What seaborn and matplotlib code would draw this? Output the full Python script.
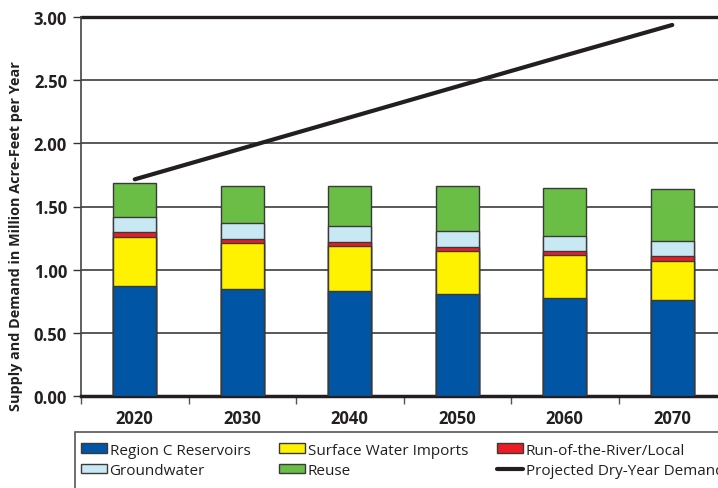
import numpy as np
import seaborn as sns
import matplotlib.pyplot as plt
from matplotlib.patches import Patch, Rectangle
from matplotlib.lines import Line2D

# --- data (million acre-feet per year) ---
years = ["2020", "2030", "2040", "2050", "2060", "2070"]
reservoirs = [0.868, 0.850, 0.829, 0.811, 0.779, 0.763]
imports = [0.393, 0.359, 0.359, 0.340, 0.335, 0.308]
run_of_river = [0.035, 0.031, 0.031, 0.031, 0.032, 0.037]
groundwater = [0.121, 0.127, 0.127, 0.127, 0.121, 0.122]
reuse = [0.267, 0.298, 0.319, 0.356, 0.380, 0.406]
demand = [1.715, 1.960, 2.205, 2.450, 2.695, 2.937]

series_names = ["Region C Reservoirs", "Surface Water Imports", "Run-of-the-River/Local",
                "Groundwater", "Reuse"]
series_vals = [reservoirs, imports, run_of_river, groundwater, reuse]
colors = ["#0055a5", "#fff200", "#ed1c24", "#c8e8f3", "#6abd45"]

sns.set_theme(style="white")
plt.rcParams["font.family"] = ["Open Sans", "DejaVu Sans"]

fig = plt.figure(figsize=(7.18, 4.89), dpi=100)
ax = fig.add_axes([81 / 718, 1 - 397 / 489, (726 - 81) / 718, (397 - 18) / 489])

# stacked bars: draw cumulative totals from the top layer down
cum = np.cumsum(np.array(series_vals), axis=0)
for i in range(len(series_vals) - 1, -1, -1):
    sns.barplot(x=years, y=cum[i], color=colors[i], width=0.4, saturation=1,
                edgecolor="#3a3a3a", linewidth=1.0, ax=ax, zorder=3)

sns.lineplot(x=np.arange(len(years)), y=demand, color="#231f20", linewidth=3,
             ax=ax, zorder=4)

ax.set_xlim(-0.5, 5.5)
ax.set_ylim(0, 3.0)
ax.set_yticks(np.arange(0, 3.01, 0.5))
ax.set_yticklabels([f"{v:.2f}" for v in np.arange(0, 3.01, 0.5)],
                   fontweight="bold", fontsize=12)
ax.set_xticks(range(len(years)))
ax.set_xticklabels(years, fontweight="bold", fontsize=12)
ax.set_xticks(np.arange(-0.5, 5.6, 1), minor=True)
ax.tick_params(axis="x", which="major", length=0, pad=9, colors="#231f20")
ax.tick_params(axis="x", which="minor", length=6, width=1, direction="out",
               color="#555555", bottom=True)
ax.tick_params(axis="y", length=6, width=1, color="#333333", pad=4, colors="#231f20", left=True)
ax.set_xlabel("")
ax.set_ylabel("")

for y in np.arange(0.5, 2.6, 0.5):
    ax.axhline(y, color="#3c3c3c", linewidth=1.2, zorder=1)
ax.axhline(3.0, color="#231f20", linewidth=2.4, zorder=1, clip_on=False)

for side in ["top", "right"]:
    ax.spines[side].set_visible(False)
ax.spines["left"].set_color("#444444")
ax.spines["left"].set_linewidth(1.2)
ax.spines["bottom"].set_color("#231f20")
ax.spines["bottom"].set_linewidth(2.5)

fig.text(16 / 718, 1 - 236 / 489, "Supply and Demand in Million Acre-Feet per Year",
         rotation=90, ha="center", va="center", fontsize=10.4, fontweight="bold",
         color="#231f20")

# legend box runs past the right and bottom edges, as in the reference
fig.patches.append(Rectangle((75 / 718, -0.05), 0.95, 1 - 433 / 489 + 0.05,
                             transform=fig.transFigure, facecolor="white",
                             edgecolor="#555555", linewidth=1.2, zorder=0))

handles = [Patch(facecolor=c, edgecolor="#3a3a3a", linewidth=1) for c in colors]
handles.append(Line2D([0], [0], color="#231f20", linewidth=3))
labels = series_names + ["Projected Dry-Year Demand"]
order = [0, 3, 1, 4, 2, 5]
leg = fig.legend([handles[i] for i in order], [labels[i] for i in order],
                 loc="upper left", bbox_to_anchor=(76 / 718, 1 - 439 / 489),
                 ncol=3, frameon=False, borderaxespad=0,
                 prop={"size": 11},
                 handlelength=1.7, handleheight=0.6, handletextpad=0.2,
                 columnspacing=1.87, labelspacing=0.35, borderpad=0.3)
for t in leg.get_texts():
    t.set_color("#231f20")

fig.savefig("out.png", dpi=100)
